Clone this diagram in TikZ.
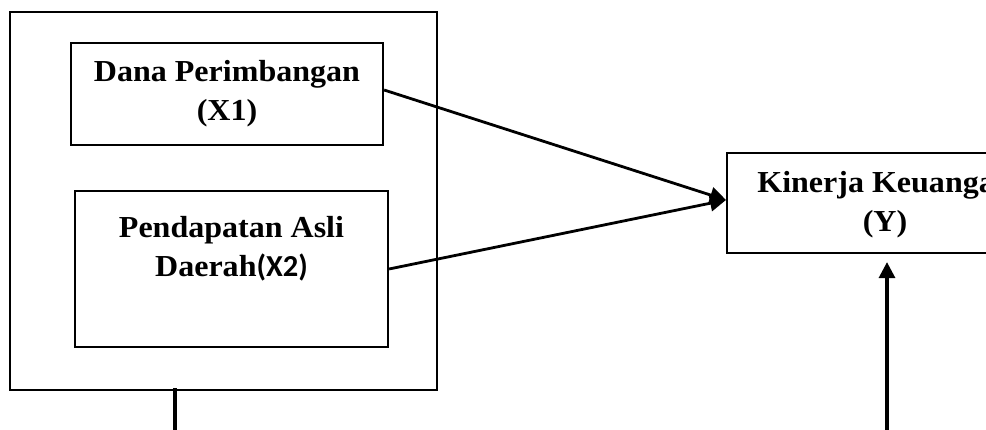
\documentclass[tikz,border=0pt]{standalone}
\usepackage{fontspec}
\setmainfont[FakeStretch=1.05]{Liberation Serif}
\newfontfamily\xsans{Carlito}
\usetikzlibrary{arrows.meta}
\begin{document}
\begin{tikzpicture}[x=1pt,y=-1pt,
  box/.style={draw=black,line width=2.2pt,inner sep=0pt},
  lbl/.style={align=center,font=\fontsize{30.5}{39}\selectfont\bfseries,inner sep=0pt},
  conn/.style={line width=2.8pt,-{Triangle[length=16pt,width=16pt]}},
  plain/.style={line width=3.2pt}]
\useasboundingbox (0,0) rectangle (986,430);
\clip (0,0) rectangle (986,430);
% outer group box
\node[box,minimum width=427pt,minimum height=378pt] (outer) at (223.5,201) {};
% X1
\node[box,minimum width=312pt,minimum height=102pt] (x1) at (227,94) {};
\node[lbl] (x1t) at (227,94) {Dana Perimbangan\\(X1)};
% X2
\node[box,minimum width=313pt,minimum height=156pt] (x2) at (231.5,269) {};
\node[lbl] (x2t) at (231.5,249) {Pendapatan Asli\\Daerah{\xsans(X2)}};
% Y
\node[box,minimum width=316pt,minimum height=100pt] (y) at (885,203) {};
\node[lbl] (yt) at (885,205) {Kinerja Keuangan\\(Y)};
% connectors
\coordinate (yin) at (726,200);
\draw[conn] (x1.east |- 0,90) -- (yin);
\draw[conn] (x2.east) -- (yin);
\coordinate (ybot) at (887,432);
\draw[conn,line width=3.2pt,shorten >=8pt] (ybot) -- (y.south -| ybot);
\coordinate (lbot) at (175,432);
\draw[plain] ([yshift=3pt]outer.south -| lbot) -- (lbot);
\end{tikzpicture}
\end{document}
